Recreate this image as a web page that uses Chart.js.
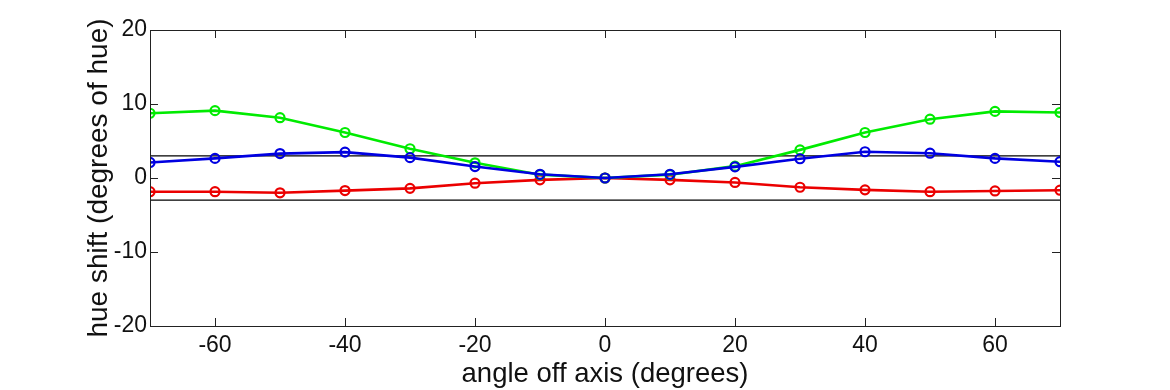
<!DOCTYPE html>
<html>
<head>
<meta charset="utf-8">
<script src="https://cdn.jsdelivr.net/npm/chart.js@4/dist/chart.umd.min.js"></script>
<style>
html,body{margin:0;padding:0;background:#fff;}
#wrap{width:1170px;height:390px;position:relative;}
</style>
</head>
<body>
<div id="wrap"><canvas id="c" width="1170" height="390"></canvas></div>
<script>
const angles = [-70,-60,-50,-40,-30,-20,-10,0,10,20,30,40,50,60,70];
const redShift   = [-1.85,-1.85,-2.0,-1.7,-1.4,-0.7,-0.25,0,-0.25,-0.6,-1.25,-1.6,-1.85,-1.75,-1.65];
const greenShift = [8.75,9.1,8.15,6.15,3.95,2.05,0.45,0,0.45,1.6,3.8,6.15,7.95,9.0,8.85];
const blueShift  = [2.1,2.65,3.3,3.5,2.75,1.55,0.5,0,0.5,1.5,2.6,3.55,3.35,2.65,2.2];
const limitLines = [3,-3];
const xTicks = [-60,-40,-20,0,20,40,60];
const yTicks = [-20,-10,0,10,20];
const xRange = [-70,70];
const yRange = [-20,20];

const FONT = "'Liberation Sans',Arial,Helvetica,sans-serif";

function pts(vals){ return angles.map((a,i)=>({x:a,y:vals[i]})); }

const datasets = [];
limitLines.forEach(v=>{
  datasets.push({data:[{x:xRange[0],y:v},{x:xRange[1],y:v}],borderColor:'#000',borderWidth:1.2,pointRadius:0,order:10});
});
const series = [
  {vals:redShift,color:'rgb(235,0,0)'},
  {vals:greenShift,color:'rgb(0,235,0)'},
  {vals:blueShift,color:'rgb(0,0,225)'}
];
series.forEach((s,i)=>{
  datasets.push({data:pts(s.vals),borderColor:s.color,borderWidth:2.6,pointRadius:4.5,pointBorderWidth:2.2,
    pointBackgroundColor:'rgba(0,0,0,0)',pointBorderColor:s.color,order:3-i});
});

const boxPlugin = {
  id:'box',
  afterDatasetsDraw(chart){
    const {ctx,chartArea:a,scales:{x,y}} = chart;
    ctx.save();
    ctx.strokeStyle='#222';
    ctx.lineWidth=1;
    ctx.strokeRect(Math.round(a.left)+0.5,Math.round(a.top)+0.5,Math.round(a.right-a.left),Math.round(a.bottom-a.top));
    const L=8;
    ctx.beginPath();
    xTicks.forEach(v=>{
      const px=Math.round(x.getPixelForValue(v))+0.5;
      ctx.moveTo(px,a.bottom);ctx.lineTo(px,a.bottom-L);
      ctx.moveTo(px,a.top);ctx.lineTo(px,a.top+L);
    });
    yTicks.forEach(v=>{
      const py=Math.round(y.getPixelForValue(v))+0.5;
      ctx.moveTo(a.left,py);ctx.lineTo(a.left+L,py);
      ctx.moveTo(a.right,py);ctx.lineTo(a.right-L,py);
    });
    ctx.stroke();
    ctx.restore();
  }
};

new Chart(document.getElementById('c'),{
  type:'line',
  data:{datasets},
  options:{
    responsive:false,
    animation:false,
    events:[],
    layout:{padding:{left:82,right:110,top:30,bottom:0}},
    plugins:{legend:{display:false},tooltip:{enabled:false}},
    scales:{
      x:{
        type:'linear',min:xRange[0],max:xRange[1],
        afterBuildTicks(s){ s.ticks = xTicks.map(v=>({value:v})); },
        afterFit(s){ s.height = 64; },
        grid:{display:false,drawTicks:false},
        border:{display:false},
        ticks:{color:'#111',font:{family:FONT,size:23},padding:6,maxRotation:0,autoSkip:false},
        title:{display:true,text:'angle off axis (degrees)',color:'#111',font:{family:FONT,size:27.5},padding:{top:0,bottom:-1}}
      },
      y:{
        type:'linear',min:yRange[0],max:yRange[1],
        afterBuildTicks(s){ s.ticks = yTicks.map(v=>({value:v})); },
        afterFit(s){ s.width = 68; },
        grid:{display:false,drawTicks:false},
        border:{display:false},
        ticks:{color:'#111',font:{family:FONT,size:23},padding:3,autoSkip:false},
        title:{display:true,text:'hue shift (degrees of hue)',color:'#111',font:{family:FONT,size:28},padding:{top:0,bottom:0}}
      }
    }
  },
  plugins:[boxPlugin]
});
</script>
</body>
</html>
